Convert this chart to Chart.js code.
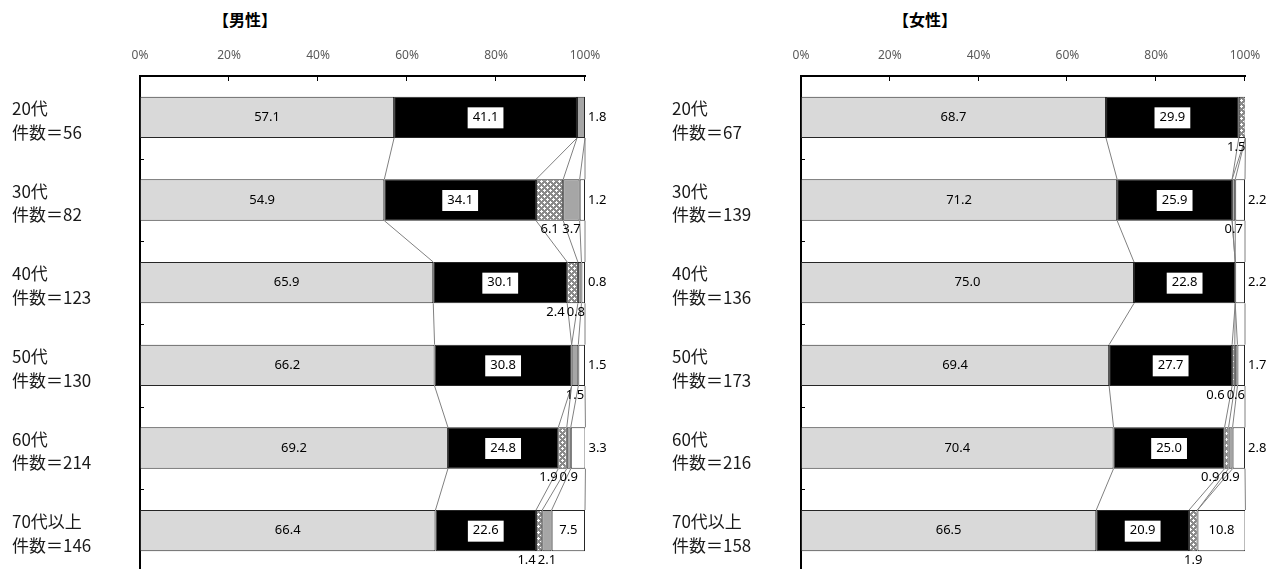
<!DOCTYPE html>
<html>
<head>
<meta charset="utf-8">
<script src="https://cdn.jsdelivr.net/npm/chart.js@4/dist/chart.umd.min.js"></script>
<style>
  html, body { margin: 0; padding: 0; background: #fff; overflow: hidden; width: 1274px; height: 569px; }
  .panel { position: absolute; top: 0; width: 637px; height: 600px; }
  .title { position: absolute; top: 7px; width: 200px; text-align: center; font: bold 16px "Noto Sans CJK JP", sans-serif; color: #000; }
</style>
</head>
<body>
<div class="title" style="left:145px">【男性】</div>
<div class="title" style="left:825px">【女性】</div>
<div class="panel" style="left:0"><canvas id="maleChart" width="637" height="600"></canvas></div>
<div class="panel" style="left:637px"><canvas id="femaleChart" width="637" height="600"></canvas></div>
<script>
const AGES = ['20代', '30代', '40代', '50代', '60代', '70代以上'];
const MALE_N = [56, 82, 123, 130, 214, 146];
const FEMALE_N = [67, 139, 136, 173, 216, 158];
const X_TICKS = [0, 20, 40, 60, 80, 100];

// answer categories, left to right in each bar
const MALE_S1 = [57.1, 54.9, 65.9, 66.2, 69.2, 66.4];
const MALE_S2 = [41.1, 34.1, 30.1, 30.8, 24.8, 22.6];
const MALE_S3 = [0, 6.1, 2.4, 0, 1.9, 1.4];
const MALE_S4 = [1.8, 3.7, 0.8, 1.5, 0.9, 2.1];
const MALE_S5 = [0, 1.2, 0.8, 1.5, 3.3, 7.5];

const FEMALE_S1 = [68.7, 71.2, 75.0, 69.4, 70.4, 66.5];
const FEMALE_S2 = [29.9, 25.9, 22.8, 27.7, 25.0, 20.9];
const FEMALE_S3 = [1.5, 0, 0, 0.6, 0.9, 1.9];
const FEMALE_S4 = [0, 0.7, 0, 0.6, 0.9, 0];
const FEMALE_S5 = [0, 2.2, 2.2, 1.7, 2.8, 10.8];

function hatchPattern() {
    const c = document.createElement('canvas');
    c.width = 6; c.height = 6;
    const g = c.getContext('2d');
    g.fillStyle = '#8a8a8a';
    g.fillRect(0, 0, 6, 6);
    g.fillStyle = '#fff';
    [[1.5, 1.5], [4.5, 4.5]].forEach(([x, y]) => {
        g.fillRect(x - 1.5, y - 0.5, 3, 1);
        g.fillRect(x - 0.5, y - 1.5, 1, 3);
    });
    return g.createPattern(c, 'repeat');
}

const FILLS = ['#d9d9d9', '#000000', hatchPattern(), '#a6a6a6', '#ffffff'];

// grey lines joining segment edges from one bar to the next
const seriesLines = {
    id: 'seriesLines',
    beforeDatasetsDraw(chart) {
        const ctx = chart.ctx;
        ctx.save();
        ctx.strokeStyle = '#808080';
        ctx.lineWidth = 1;
        chart.data.datasets.forEach((ds, k) => {
            const bars = chart.getDatasetMeta(k).data;
            for (let i = 0; i < bars.length - 1; i++) {
                const a = bars[i], b = bars[i + 1];
                ctx.beginPath();
                ctx.moveTo(a.x, a.y + a.height / 2);
                ctx.lineTo(b.x, b.y - b.height / 2);
                ctx.stroke();
            }
        });
        ctx.restore();
    }
};

const segLabels = {
    id: 'segLabels',
    afterDatasetsDraw(chart) {
        const ctx = chart.ctx;
        const vals = chart.data.datasets.map(d => d.data);
        const bar = (k, i) => chart.getDatasetMeta(k).data[i];
        ctx.save();
        ctx.font = '13px "Noto Sans", sans-serif';
        ctx.textBaseline = 'middle';
        const put = (t, x, y, align) => { ctx.textAlign = align; ctx.fillStyle = '#000'; ctx.fillText(t, x, y); };

        vals[0].forEach((_, i) => {
            const txt = k => vals[k][i].toFixed(1);
            const mid = k => (bar(k, i).x + bar(k, i).base) / 2;
            const b0 = bar(0, i);
            put(txt(0), mid(0), b0.y, 'center');

            const w1 = ctx.measureText(txt(1)).width + 10;
            ctx.fillStyle = '#fff';
            ctx.fillRect(mid(1) - w1 / 2, b0.y - 10, w1, 21);
            put(txt(1), mid(1), b0.y, 'center');

            const end = bar(4, i).x;
            const below = b0.y + b0.height / 2 + 9;
            const v2 = vals[2][i], v3 = vals[3][i], v4 = vals[4][i];

            if (v4 > 0) {
                if (v4 >= 5) put(txt(4), mid(4), b0.y, 'center');
                else put(txt(4), end + 3, b0.y, 'left');
            }
            let grayLeft = null;
            if (v3 > 0) {
                if (v4 === 0) put(txt(3), end + 3, b0.y, 'left');
                else {
                    const w = ctx.measureText(txt(3)).width;
                    const x = Math.min(mid(3), end - w / 2);
                    put(txt(3), x, below, 'center');
                    grayLeft = x - w / 2;
                }
            }
            if (v2 > 0) {
                const w = ctx.measureText(txt(2)).width;
                let x = Math.min(mid(2), end - w / 2);
                if (grayLeft !== null) x = Math.min(x, grayLeft - 2 - w / 2);
                put(txt(2), x, below, 'center');
            }
        });
        ctx.restore();
    }
};

// short inward tick marks on the top and left axes
const innerTicks = {
    id: 'innerTicks',
    afterDraw(chart) {
        const ctx = chart.ctx, xs = chart.scales.x, ys = chart.scales.y;
        const {left, top} = chart.chartArea;
        ctx.save();
        ctx.strokeStyle = '#000';
        ctx.lineWidth = 1;
        ctx.beginPath();
        xs.ticks.forEach(t => {
            const px = Math.round(xs.getPixelForValue(t.value)) - 0.5;
            ctx.moveTo(px, top); ctx.lineTo(px, top + 5);
        });
        for (let i = 1; i < AGES.length; i++) {
            const py = Math.round((ys.getPixelForValue(i - 1) + ys.getPixelForValue(i)) / 2) + 0.5;
            ctx.moveTo(left, py); ctx.lineTo(left + 4, py);
        }
        ctx.stroke();
        ctx.restore();
    }
};

function makeChart(id, counts, series, pad, axisWidth) {
    const labels = AGES.map((a, i) => [a, '件数＝' + counts[i]]);
    return new Chart(document.getElementById(id), {
        type: 'bar',
        data: {
            labels,
            datasets: series.map((data, k) => ({
                data,
                backgroundColor: FILLS[k],
                borderColor: '#262626',
                borderWidth: 1,
                borderSkipped: false,
                barPercentage: 0.5,
                categoryPercentage: 1
            }))
        },
        options: {
            indexAxis: 'y',
            responsive: false,
            animation: false,
            devicePixelRatio: 1,
            layout: { padding: { left: pad.left, right: pad.right, top: 0, bottom: 28 } },
            plugins: { legend: { display: false }, tooltip: { enabled: false } },
            scales: {
                x: {
                    position: 'top', stacked: true, min: 0, max: 100,
                    afterFit: s => { s.height = 76; },
                    afterBuildTicks: s => { s.ticks = X_TICKS.map(v => ({ value: v })); },
                    grid: { display: false, drawTicks: false },
                    border: { display: true, color: '#000', width: 2 },
                    ticks: { padding: 13, color: '#595959', font: { family: '"Noto Sans", sans-serif', size: 12 }, callback: v => v + '%' }
                },
                y: {
                    stacked: true,
                    afterFit: s => { s.width = axisWidth; },
                    grid: { display: false, drawTicks: false },
                    border: { display: true, color: '#000', width: 2 },
                    ticks: { crossAlign: 'far', labelOffset: 3, color: '#1a1a1a', font: { family: '"Noto Sans CJK JP", sans-serif', size: 17, lineHeight: 1.4 } }
                }
            }
        },
        plugins: [seriesLines, segLabels, innerTicks]
    });
}

makeChart('maleChart', MALE_N, [MALE_S1, MALE_S2, MALE_S3, MALE_S4, MALE_S5], { left: 12, right: 52 }, 128);
makeChart('femaleChart', FEMALE_N, [FEMALE_S1, FEMALE_S2, FEMALE_S3, FEMALE_S4, FEMALE_S5], { left: 35, right: 29 }, 129);
</script>
</body>
</html>
